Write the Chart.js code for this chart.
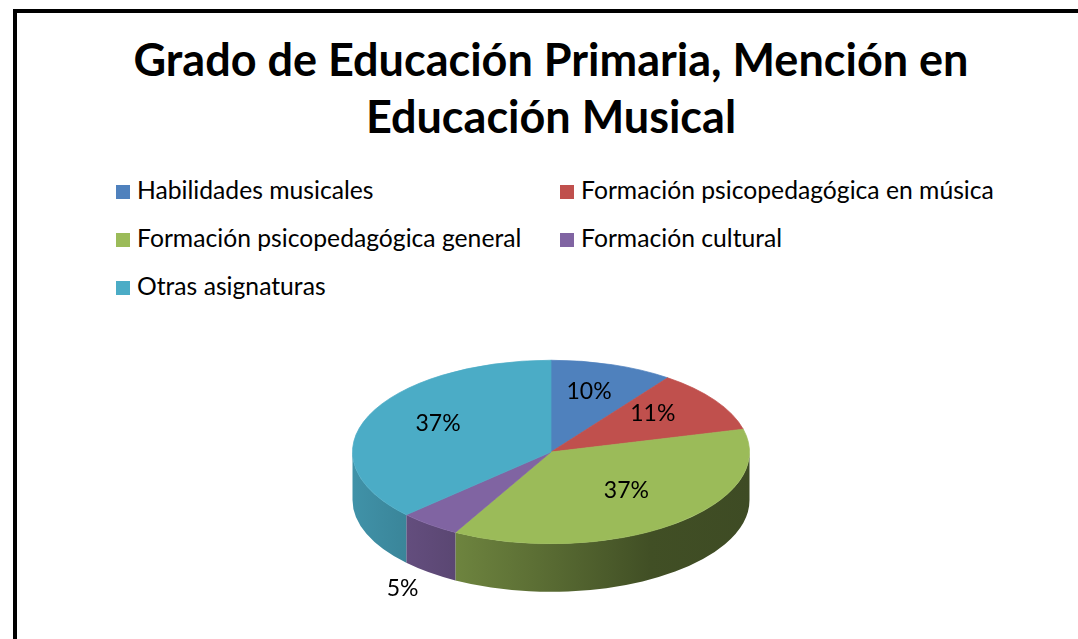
<!DOCTYPE html>
<html>
<head>
<meta charset="utf-8">
<script src="https://cdn.jsdelivr.net/npm/chart.js@4.4.1/dist/chart.umd.min.js"></script>
<style>
  html, body { margin: 0; padding: 0; background: #fff; overflow: hidden; }
  body { width: 1078px; height: 639px; position: relative; font-family: Lato, "Noto Sans", sans-serif; color: #000; }
  .frame { position: absolute; left: 13px; top: 9px; width: 1100px; height: 700px; border-left: 4px solid #000; border-top: 4px solid #000; }
  .title { position: absolute; left: 12px; width: 1078px; top: 31px; text-align: center; font-weight: bold; font-size: 45px; line-height: 57px; }
  .legend-item { position: absolute; font-size: 24.7px; line-height: 48px; white-space: nowrap; }
  .legend-item i { display: inline-block; width: 14px; height: 14px; margin-right: 7px; vertical-align: baseline; }
  .chart-box { position: absolute; left: 0; top: 0; width: 1078px; height: 700px; }
</style>
</head>
<body>
<div class="frame"></div>
<div class="title">Grado de Educación Primaria, Mención en<br>Educación Musical</div>
<div id="legend"></div>
<div class="chart-box"><canvas id="pie"></canvas></div>

<script>
// datos del gráfico
const categories = [
  'Habilidades musicales',
  'Formación psicopedagógica en música',
  'Formación psicopedagógica general',
  'Formación cultural',
  'Otras asignaturas'
];
const shares = [10, 11, 37, 5, 37];
const sliceColors = ['#4F81BD', '#C0504D', '#9BBB59', '#8064A2', '#4BACC6'];

// aspecto del "3D"
const TILT = 92 / 199;   // achatamiento vertical de la cara superior
const DEPTH = 48;        // grosor del lateral en px

// leyenda en HTML, dos columnas como en Excel
const legendCols = [116, 560];
const legendTop = 166;
const legendRow = 48;
const legendEl = document.getElementById('legend');
categories.forEach((name, i) => {
  const item = document.createElement('div');
  item.className = 'legend-item';
  item.style.left = legendCols[i % 2] + 'px';
  item.style.top = (legendTop + Math.floor(i / 2) * legendRow) + 'px';
  item.innerHTML = `<i style="background:${sliceColors[i]}"></i>${name}`;
  legendEl.appendChild(item);
});

function shade(hex, f) {
  const n = parseInt(hex.slice(1), 16);
  const r = Math.round(((n >> 16) & 255) * f);
  const g = Math.round(((n >> 8) & 255) * f);
  const b = Math.round((n & 255) * f);
  return `rgb(${r},${g},${b})`;
}

// plugin: lateral del cilindro + aplastar la tarta + etiquetas de porcentaje
const pie3d = {
  id: 'pie3d',
  beforeDatasetsDraw(chart) {
    const ctx = chart.ctx;
    const arcs = chart.getDatasetMeta(0).data;
    if (!arcs.length) return;
    const cx = arcs[0].x, cy = arcs[0].y, r = arcs[0].outerRadius;

    arcs.forEach((arc, i) => {
      const a0 = Math.max(arc.startAngle, 0);
      const a1 = Math.min(arc.endAngle, Math.PI);
      if (a1 <= a0) return;
      const grad = ctx.createLinearGradient(cx - r, 0, cx + r, 0);
      grad.addColorStop(0, shade(sliceColors[i], 0.85));
      grad.addColorStop(0.45, shade(sliceColors[i], 0.6));
      grad.addColorStop(0.75, shade(sliceColors[i], 0.42));
      grad.addColorStop(1, shade(sliceColors[i], 0.4));
      ctx.beginPath();
      ctx.ellipse(cx, cy, r, r * TILT, 0, a0, a1);
      ctx.ellipse(cx, cy + DEPTH, r, r * TILT, 0, a1, a0, true);
      ctx.closePath();
      ctx.fillStyle = grad;
      ctx.fill();
    });

    ctx.save();
    ctx.translate(cx, cy);
    ctx.scale(1, TILT);
    ctx.translate(-cx, -cy);
  },
  afterDatasetsDraw(chart) {
    const ctx = chart.ctx;
    ctx.restore();
    const arcs = chart.getDatasetMeta(0).data;
    ctx.save();
    ctx.font = '23px Lato, "Noto Sans", sans-serif';
    ctx.fillStyle = '#000';
    ctx.textAlign = 'center';
    ctx.textBaseline = 'middle';
    arcs.forEach((arc, i) => {
      const mid = (arc.startAngle + arc.endAngle) / 2;
      const small = shares[i] < 6;
      const k = small ? 1.22 : 0.62;
      const x = arc.x + Math.cos(mid) * arc.outerRadius * k;
      let y = arc.y + Math.sin(mid) * arc.outerRadius * TILT * k;
      y += small ? DEPTH : -6;
      ctx.fillText(shares[i] + '%', x, y);
    });
    ctx.restore();
  }
};

new Chart(document.getElementById('pie'), {
  type: 'pie',
  data: {
    labels: categories,
    datasets: [{
      data: shares,
      backgroundColor: sliceColors,
      borderColor: sliceColors,
      borderWidth: 1,
      hoverOffset: 0,
      clip: false
    }]
  },
  options: {
    responsive: true,
    maintainAspectRatio: false,
    animation: false,
    events: [],
    layout: { padding: { left: 352, right: 328, top: 253, bottom: 49 } },
    plugins: {
      legend: { display: false },
      title: { display: false },
      tooltip: { enabled: false }
    }
  },
  plugins: [pie3d]
});
</script>
</body>
</html>
